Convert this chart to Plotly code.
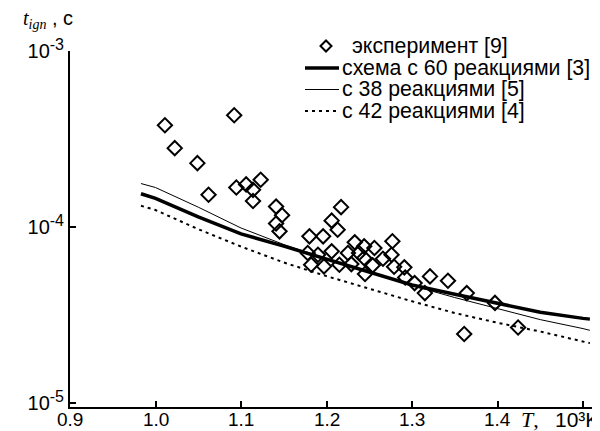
import plotly.graph_objects as go

# experiment [9]
exp_T = [1.011, 1.092, 1.0225, 1.049, 1.062, 1.0945, 1.106, 1.123, 1.114, 1.114,
         1.141, 1.148, 1.141, 1.145, 1.217, 1.206, 1.213, 1.180, 1.196, 1.178,
         1.190, 1.206, 1.182, 1.197, 1.233, 1.225, 1.238, 1.215, 1.229, 1.244,
         1.256, 1.277, 1.276, 1.244, 1.254, 1.245, 1.266, 1.279, 1.291, 1.292,
         1.303, 1.321, 1.315, 1.342, 1.364, 1.397, 1.424, 1.361]
exp_t = [3.79e-4, 4.32e-4, 2.81e-4, 2.31e-4, 1.53e-4, 1.68e-4, 1.75e-4, 1.86e-4, 1.63e-4, 1.41e-4,
         1.31e-4, 1.17e-4, 1.05e-4, 9.48e-5, 1.30e-4, 1.09e-4, 9.68e-5, 8.88e-5, 8.88e-5, 7.14e-5,
         6.98e-5, 7.30e-5, 6.13e-5, 6.00e-5, 8.21e-5, 7.14e-5, 7.14e-5, 6.13e-5, 6.18e-5, 7.79e-5,
         7.62e-5, 8.32e-5, 6.98e-5, 6.68e-5, 6.08e-5, 5.43e-5, 6.62e-5, 5.97e-5, 5.92e-5, 5.19e-5,
         4.82e-5, 5.26e-5, 4.23e-5, 4.97e-5, 4.23e-5, 3.72e-5, 2.70e-5, 2.48e-5]

# model curves
T_model = [0.983, 1.0, 1.05, 1.1, 1.15, 1.2, 1.25, 1.3, 1.35, 1.4, 1.45, 1.5, 1.508]
t60 = [1.549e-4, 1.459e-4, 1.146e-4, 9.17e-5, 7.81e-5, 6.60e-5, 5.58e-5, 4.70e-5, 4.17e-5,
       3.70e-5, 3.29e-5, 3.04e-5, 3.01e-5]
t38 = [1.77e-4, 1.68e-4, 1.30e-4, 9.90e-5, 7.98e-5, 6.64e-5, 5.61e-5, 4.67e-5, 3.99e-5,
       3.47e-5, 2.99e-5, 2.66e-5, 2.60e-5]
t42 = [1.324e-4, 1.252e-4, 9.75e-5, 7.77e-5, 6.31e-5, 5.28e-5, 4.48e-5, 3.80e-5, 3.26e-5,
       2.87e-5, 2.56e-5, 2.25e-5, 2.20e-5]

x_tickvals = [0.9, 1.0, 1.1, 1.2, 1.3, 1.4, 1.5]
x_ticktext = ["0.9", "1.0", "1.1", "1.2", "1.3", "1.4", ""]
y_tickvals = [1e-3, 1e-4, 1e-5]
y_ticktext = ["10<sup><span style='font-size:16px'>-3</span></sup>",
              "10<sup><span style='font-size:16px'>-4</span></sup>",
              "10<sup><span style='font-size:16px'>-5</span></sup>"]
x_title_T = "<i>T</i>,"
x_title_unit = "10\u00b3K"
y_title = "<span style='font-family:Liberation Serif, serif'><i>t</i><sub><i>ign</i></sub></span> , с"

names = ["эксперимент [9]", "схема с 60 реакциями [3]", "с 38 реакциями [5]", "с 42 реакциями [4]"]

FONT = "Liberation Sans, Arial, sans-serif"
SERIF = "Liberation Serif, Times New Roman, serif"

# plot area in pixels
L, R, T, B = 62, 599, 43, 399
W, H = R - L, B - T
LABEL_Y = 411


def px(x):
    return (x - L) / W


def py(y):
    return (B - y) / H


fig = go.Figure()
fig.add_trace(go.Scatter(x=exp_T, y=exp_t, mode="markers", name=names[0], showlegend=False,
                         marker=dict(symbol="diamond-open", size=11, color="black",
                                     line=dict(width=2, color="black"))))
fig.add_trace(go.Scatter(x=T_model, y=t60, mode="lines", name=names[1], showlegend=False,
                         line=dict(color="black", width=3.5)))
fig.add_trace(go.Scatter(x=T_model, y=t38, mode="lines", name=names[2], showlegend=False,
                         line=dict(color="black", width=1)))
fig.add_trace(go.Scatter(x=T_model, y=t42, mode="lines", name=names[3], showlegend=False,
                         line=dict(color="black", width=2, dash="3px,4px")))

fig.update_layout(
    width=600, height=431,
    margin=dict(l=L, r=600 - R, t=T, b=431 - B),
    paper_bgcolor="white", plot_bgcolor="white",
    font=dict(family=FONT, size=19, color="black"),
    showlegend=False,
    xaxis=dict(range=[0.9, 1.528], tickvals=x_tickvals, showticklabels=False,
               showline=True, linecolor="black", linewidth=2, mirror=False,
               ticks="inside", ticklen=6, tickwidth=1.5, tickcolor="black",
               showgrid=False, zeroline=False),
    yaxis=dict(type="log", range=[-5.02, -3], tickvals=y_tickvals, ticktext=y_ticktext,
               showline=True, linecolor="black", linewidth=2, mirror=False,
               ticks="inside", ticklen=6, tickwidth=1.5, tickcolor="black",
               showgrid=False, zeroline=False, tickfont=dict(size=20)),
)

# x tick labels and axis caption share one baseline
for v, s in zip(x_tickvals, x_ticktext):
    if s:
        fig.add_annotation(xref="x", yref="paper", x=v, y=py(LABEL_Y), xanchor="center",
                           yanchor="middle", showarrow=False, text=s, font=dict(size=19))
fig.add_annotation(xref="paper", yref="paper", x=px(511), y=py(LABEL_Y), xanchor="left",
                   yanchor="middle", showarrow=False, text=x_title_T,
                   font=dict(size=22, family=SERIF))
fig.add_annotation(xref="paper", yref="paper", x=px(545), y=py(LABEL_Y), xanchor="left",
                   yanchor="middle", showarrow=False, text=x_title_unit, font=dict(size=21))

# custom legend (tight row spacing as in the original)
LEG_FONT = 21.3
rows = [38, 60, 81.5, 103]
dx, dy = 5.5, 5.5
cx, cy = 318, rows[0]
fig.add_shape(type="path", xref="paper", yref="paper",
              path=f"M {px(cx - dx)} {py(cy)} L {px(cx)} {py(cy - dy)} L {px(cx + dx)} {py(cy)} "
                   f"L {px(cx)} {py(cy + dy)} Z",
              line=dict(color="black", width=2), fillcolor="rgba(0,0,0,0)")
fig.add_annotation(xref="paper", yref="paper", x=px(342), y=py(rows[0]), xanchor="left",
                   yanchor="middle", showarrow=False, text=names[0], font=dict(size=LEG_FONT))
line_styles = [dict(width=3.5), dict(width=1), dict(width=2, dash="3px,4px")]
for i in range(1, 4):
    fig.add_shape(type="line", xref="paper", yref="paper", x0=px(297), x1=px(331),
                  y0=py(rows[i]), y1=py(rows[i]), line=dict(color="black", **line_styles[i - 1]))
    fig.add_annotation(xref="paper", yref="paper", x=px(332), y=py(rows[i]), xanchor="left",
                       yanchor="middle", showarrow=False, text=names[i], font=dict(size=LEG_FONT))

fig.add_annotation(xref="paper", yref="paper", x=px(13), y=py(11),
                   xanchor="left", yanchor="middle", showarrow=False,
                   text=y_title, font=dict(size=20))

fig.write_html("out.html")
